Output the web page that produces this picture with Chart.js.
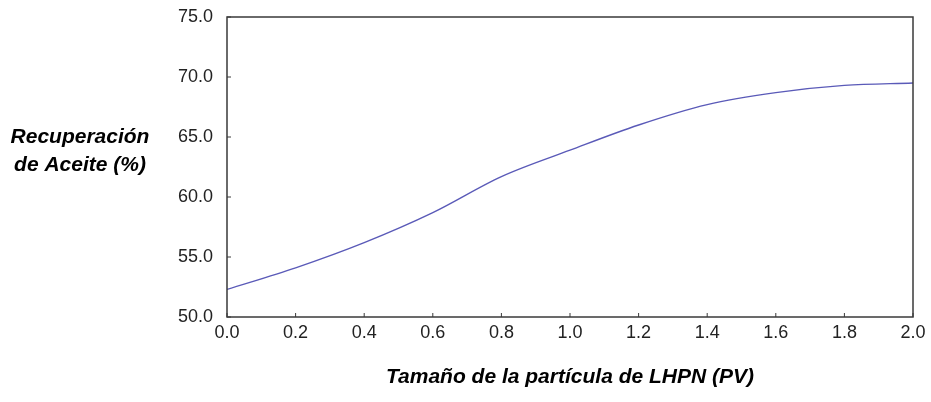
<!DOCTYPE html>
<html>
<head>
<meta charset="utf-8">
<script src="https://cdn.jsdelivr.net/npm/chart.js@4"></script>
<style>
  html, body { margin: 0; padding: 0; background: #fff; }
  #wrap { width: 931px; height: 402px; position: relative; }
</style>
</head>
<body>
<div id="wrap"><canvas id="chart" width="931" height="402"></canvas></div>
<script>
// ======================
// DATA
// ======================

const particleSize = [0.0, 0.2, 0.4, 0.6, 0.8, 1.0, 1.2, 1.4, 1.6, 1.8, 2.0];

const oilRecovery = [52.3, 54.1, 56.2, 58.7, 61.7, 63.9, 66.0, 67.7, 68.7, 69.3, 69.5];

const yTitleLines = ["Recuperación", "de Aceite (%)"];

const xTitle = "Tamaño de la partícula de LHPN (PV)";

// ======================
// PLUGINS
// ======================

const frameAndTicks = {
    id: "frameAndTicks",
    afterDatasetsDraw(chart) {
        const ctx = chart.ctx;
        const a = chart.chartArea;
        const xs = chart.scales.x;
        const ys = chart.scales.y;
        ctx.save();
        ctx.strokeStyle = "#3a3a3a";
        ctx.lineWidth = 1.5;
        ctx.strokeRect(a.left, a.top, a.right - a.left, a.bottom - a.top);
        ctx.lineWidth = 1;
        ctx.beginPath();
        xs.ticks.forEach(t => {
            const px = xs.getPixelForValue(t.value);
            ctx.moveTo(px, a.bottom);
            ctx.lineTo(px, a.bottom - 4);
        });
        ys.ticks.forEach(t => {
            const py = ys.getPixelForValue(t.value);
            ctx.moveTo(a.left, py);
            ctx.lineTo(a.left + 4, py);
        });
        ctx.stroke();
        ctx.restore();
    }
};

const sideTitle = {
    id: "sideTitle",
    afterDraw(chart) {
        const ctx = chart.ctx;
        ctx.save();
        ctx.fillStyle = "#000";
        ctx.font = "italic bold 21px 'Liberation Sans', Arial, sans-serif";
        ctx.textAlign = "center";
        ctx.textBaseline = "middle";
        yTitleLines.forEach((line, i) => {
            ctx.fillText(line, 80, 137 + i * 28);
        });
        ctx.restore();
    }
};

// ======================
// CHART
// ======================

new Chart(document.getElementById("chart"), {
    type: "line",
    data: {
        datasets: [{
            data: particleSize.map((x, i) => ({ x: x, y: oilRecovery[i] })),
            borderColor: "#5a5ab8",
            borderWidth: 1.4,
            pointRadius: 0,
            fill: false,
            cubicInterpolationMode: "monotone"
        }]
    },
    options: {
        responsive: false,
        animation: false,
        layout: {
            padding: { top: 17, right: 18, bottom: 12, left: 0 }
        },
        plugins: {
            legend: { display: false },
            tooltip: { enabled: false }
        },
        scales: {
            x: {
                type: "linear",
                min: 0,
                max: 2,
                afterFit: s => {
                    s.height = 73;
                    s.paddingLeft = 0;
                    s.paddingRight = 0;
                },
                grid: { display: false, drawTicks: false },
                border: { display: false },
                ticks: {
                    stepSize: 0.2,
                    padding: 5,
                    color: "#222",
                    font: { family: "'Liberation Sans', Arial, sans-serif", size: 18 },
                    callback: v => v.toFixed(1)
                },
                title: {
                    display: true,
                    text: xTitle,
                    color: "#000",
                    padding: { top: 0, bottom: 0 },
                    font: { family: "'Liberation Sans', Arial, sans-serif", size: 21, style: "italic", weight: "bold" }
                }
            },
            y: {
                min: 50,
                max: 75,
                afterFit: s => {
                    s.width = 227;
                    s.paddingTop = 0;
                    s.paddingBottom = 0;
                },
                grid: { display: false, drawTicks: false },
                border: { display: false },
                ticks: {
                    stepSize: 5,
                    padding: 14,
                    color: "#222",
                    font: { family: "'Liberation Sans', Arial, sans-serif", size: 18 },
                    callback: v => v.toFixed(1)
                }
            }
        }
    },
    plugins: [frameAndTicks, sideTitle]
});
</script>
</body>
</html>
